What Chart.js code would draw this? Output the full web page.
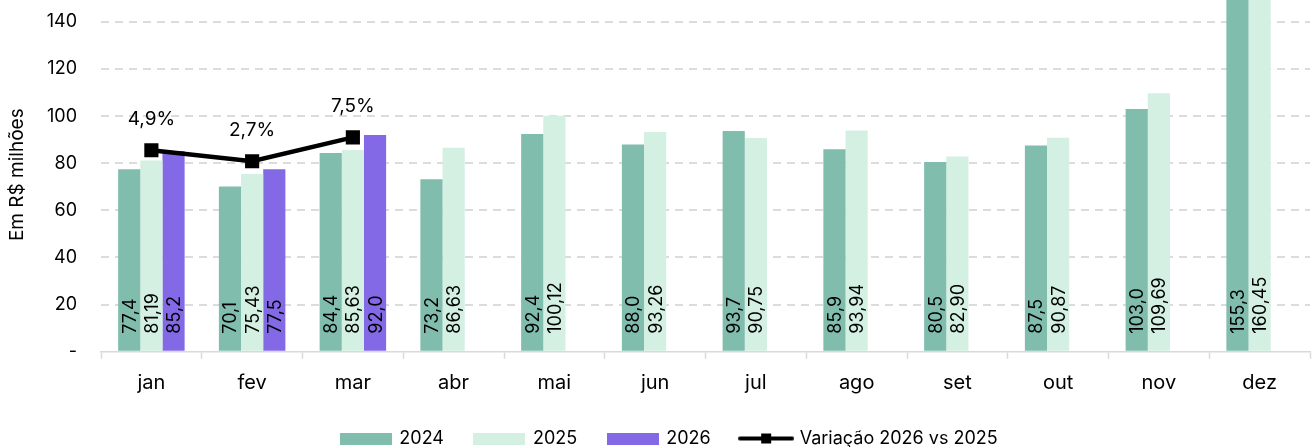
<!DOCTYPE html>
<html lang="pt-BR">
<head>
<meta charset="UTF-8">
<title>Receita mensal</title>
<script src="https://cdn.jsdelivr.net/npm/chart.js"></script>
<style>
    html, body { margin: 0; padding: 0; background: #fff; }
    #wrap { position: relative; width: 1312px; height: 447px; overflow: hidden; }
    #chart { position: absolute; left: 0; top: -60px; }
</style>
</head>
<body>
<div id="wrap"><canvas id="chart" width="1320" height="530"></canvas></div>
<script>
// data
const months = ['jan', 'fev', 'mar', 'abr', 'mai', 'jun', 'jul', 'ago', 'set', 'out', 'nov', 'dez'];
const v2024 = [77.4, 70.1, 84.4, 73.2, 92.4, 88.0, 93.7, 85.9, 80.5, 87.5, 103.0, 155.3];
const v2025 = [81.19, 75.43, 85.63, 86.63, 100.12, 93.26, 90.75, 93.94, 82.90, 90.87, 109.69, 160.45];
const v2026 = [85.2, 77.5, 92.0, null, null, null, null, null, null, null, null, null];
const varPct = [4.9, 2.7, 7.5, null, null, null, null, null, null, null, null, null];
const yTicks = [0, 20, 40, 60, 80, 100, 120, 140, 160];

const FONT = 'Inter';
const C2024 = '#80BDAD', C2025 = '#D4F0E2', C2026 = '#8469E6';

Chart.defaults.font.family = FONT;
Chart.defaults.font.size = 18;
Chart.defaults.color = '#000';

function boxImg(color) {
    const c = document.createElement('canvas');
    c.width = 52; c.height = 12;
    const g = c.getContext('2d');
    g.fillStyle = color;
    g.fillRect(0, 0, 52, 12);
    return c;
}
function lineImg() {
    const c = document.createElement('canvas');
    c.width = 56; c.height = 12;
    const g = c.getContext('2d');
    g.strokeStyle = '#000';
    g.lineWidth = 4;
    g.lineCap = 'round';
    g.beginPath(); g.moveTo(2, 6); g.lineTo(54, 6); g.stroke();
    g.fillStyle = '#000';
    g.fillRect(23, 1, 10, 10);
    return c;
}
const legendImgs = [boxImg(C2024), boxImg(C2025), boxImg(C2026), lineImg()];

const fmt = (v, d) => v.toFixed(d).replace('.', ',');

// value labels inside the bars, % labels over the line, axis title
const labelPlugin = {
    id: 'labels',
    afterDatasetsDraw(chart) {
        const ctx = chart.ctx;
        ctx.save();
        ctx.font = '18px ' + FONT;
        ctx.fillStyle = '#000';
        [0, 1, 2].forEach(di => {
            const dec = di === 1 ? 2 : 1;
            chart.getDatasetMeta(di).data.forEach((bar, i) => {
                const v = chart.data.datasets[di].data[i];
                if (v == null) return;
                ctx.save();
                ctx.translate(bar.x, bar.base - 17);
                ctx.rotate(-Math.PI / 2);
                ctx.textAlign = 'left';
                ctx.textBaseline = 'alphabetic';
                ctx.fillText(fmt(v, dec), 0, 6.5);
                ctx.restore();
            });
        });
        ctx.font = '19px ' + FONT;
        ctx.textAlign = 'center';
        ctx.textBaseline = 'middle';
        chart.getDatasetMeta(3).data.forEach((pt, i) => {
            if (varPct[i] == null) return;
            ctx.fillText(fmt(varPct[i], 1) + '%', pt.x, pt.y - 31);
        });
        const ca = chart.chartArea;
        ctx.save();
        ctx.translate(ca.left - 84, ca.bottom - 177);
        ctx.rotate(-Math.PI / 2);
        ctx.font = '19px ' + FONT;
        ctx.fillText('Em R$ milhões', 0, 0);
        ctx.restore();
        ctx.restore();
    }
};

new Chart(document.getElementById('chart'), {
    type: 'bar',
    data: {
        labels: months,
        datasets: [
            { label: '2024', data: v2024, backgroundColor: C2024, categoryPercentage: 0.66, barPercentage: 1 },
            { label: '2025', data: v2025, backgroundColor: C2025, categoryPercentage: 0.66, barPercentage: 1 },
            { label: '2026', data: v2026, backgroundColor: C2026, categoryPercentage: 0.66, barPercentage: 1 },
            {
                type: 'line', label: 'Variação 2026 vs 2025', data: varPct, yAxisID: 'y2',
                borderColor: '#000', backgroundColor: '#000', borderWidth: 4.5,
                pointStyle: 'rect', pointRadius: 10, pointBorderWidth: 0,
                pointBackgroundColor: '#000', order: -1
            }
        ]
    },
    options: {
        responsive: false,
        animation: false,
        layout: { padding: { top: 33.4, left: 22, right: 3, bottom: 12.5 } },
        plugins: {
            tooltip: { enabled: false },
            legend: {
                position: 'bottom',
                labels: {
                    usePointStyle: true,
                    pointStyleWidth: 49,
                    padding: 31,
                    font: { size: 18 },
                    generateLabels(chart) {
                        return chart.data.datasets.map((ds, i) => ({
                            text: ds.label, datasetIndex: i, pointStyle: legendImgs[i],
                            fillStyle: '#000', strokeStyle: '#000', lineWidth: 0, hidden: false
                        }));
                    }
                }
            }
        },
        scales: {
            x: {
                grid: { display: true, drawOnChartArea: false, drawTicks: true, tickLength: 7, color: '#d9d9d9', tickWidth: 1.5 },
                border: { display: true, color: '#d9d9d9', width: 1.5 },
                ticks: { padding: 12, font: { size: 20 } },
                afterFit(scale) { scale.height = 46.8; }
            },
            y: {
                min: 0, max: 160,
                afterBuildTicks(scale) { scale.ticks = yTicks.map(v => ({ value: v })); },
                afterFit(scale) { scale.width = 79; },
                grid: {
                    drawTicks: false, lineWidth: 2,
                    color: ctx => ctx.tick && ctx.tick.value === 0 ? 'rgba(0,0,0,0)' : '#dcdcdc'
                },
                border: { display: false, dash: [8, 6] },
                ticks: { padding: 24, font: { size: 18 }, callback: v => v === 0 ? '-' : v }
            },
            y2: { display: false, min: -35.5, max: 40.1 }
        }
    },
    plugins: [labelPlugin]
});
</script>
</body>
</html>
